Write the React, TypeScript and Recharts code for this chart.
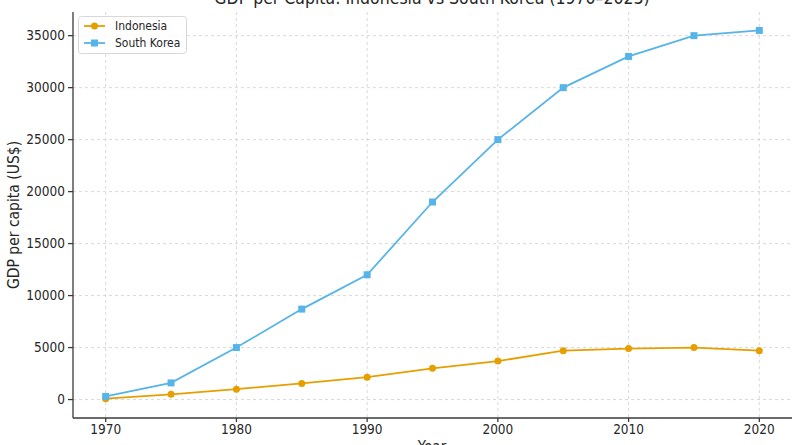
import React from "react";
import { CartesianGrid, Line, LineChart, XAxis, YAxis } from "recharts";

const years = [1970, 1975, 1980, 1985, 1990, 1995, 2000, 2005, 2010, 2015, 2020];
const indonesia = [80, 500, 1000, 1550, 2150, 3000, 3700, 4700, 4900, 5000, 4700];
const southKorea = [300, 1600, 5000, 8700, 12000, 19000, 25000, 30000, 33000, 35000, 35500];
const xTicks = [1970, 1980, 1990, 2000, 2010, 2020];
const yTicks = [0, 5000, 10000, 15000, 20000, 25000, 30000, 35000];

const data = years.map((year, i) => ({
  year,
  indonesia: indonesia[i],
  southKorea: southKorea[i],
}));

const ORANGE = "#E69F00";
const BLUE = "#56B4E9";
const FONT = "'DejaVu Sans Condensed', 'DejaVu Sans', sans-serif";
const TEXT = "#262626";
const AXIS = "#3a3a3a";

const SquareDot = (props: any) => {
  const { cx, cy, index } = props;
  if (cx == null || cy == null) return null;
  return <rect key={`sq-${index}`} x={cx - 3.5} y={cy - 3.5} width={7} height={7} fill={BLUE} />;
};

const LegendBox = () => (
  <g transform="translate(78 16)">
    <rect x={0.5} y={0.5} width={108} height={37} rx={3} fill="#fff" fillOpacity={0.8} stroke="#d8d8d8" />
    <line x1={6} y1={10} x2={27} y2={10} stroke={ORANGE} strokeWidth={1.8} />
    <circle cx={16.5} cy={10} r={3.5} fill={ORANGE} />
    <text x={37} y={14} fontFamily={FONT} fontStretch="condensed" fontSize={12} fill={TEXT}>Indonesia</text>
    <line x1={6} y1={27} x2={27} y2={27} stroke={BLUE} strokeWidth={1.8} />
    <rect x={13} y={23.5} width={7} height={7} fill={BLUE} />
    <text x={37} y={31} fontFamily={FONT} fontStretch="condensed" fontSize={12} fill={TEXT}>South Korea</text>
  </g>
);

const tickStyle = { fill: TEXT, fontSize: 13.5, fontFamily: FONT, fontStretch: "condensed" };

export default function App() {
  return (
    <div style={{ position: "absolute", left: 0, top: 0, width: 800, height: 445, overflow: "hidden", background: "#fff" }}>
      <LineChart width={800} height={445} data={data} margin={{ top: 12, right: 8, left: 0, bottom: 0 }}>
        <CartesianGrid stroke="#cfcfcf" strokeDasharray="3 3" strokeWidth={0.8} horizontalValues={yTicks} verticalValues={xTicks} />
        <XAxis
          dataKey="year"
          type="number"
          domain={[1967.5, 2022.5]}
          ticks={xTicks}
          height={27}
          tickSize={4}
          tickMargin={2}
          stroke={AXIS}
          strokeWidth={1.3}
          tick={tickStyle}
          allowDataOverflow
        />
        <YAxis
          type="number"
          domain={[-1775, 37275]}
          ticks={yTicks}
          width={73}
          tickSize={5}
          tickMargin={3}
          stroke={AXIS}
          strokeWidth={1.3}
          tick={tickStyle}
          allowDataOverflow
        />
        <Line
          dataKey="indonesia"
          name="Indonesia"
          stroke={ORANGE}
          strokeWidth={1.8}
          dot={{ r: 3.5, fill: ORANGE, stroke: "none" }}
          activeDot={false}
          isAnimationActive={false}
        />
        <Line
          dataKey="southKorea"
          name="South Korea"
          stroke={BLUE}
          strokeWidth={1.8}
          dot={<SquareDot />}
          activeDot={false}
          isAnimationActive={false}
        />
      </LineChart>
      <svg width={800} height={445} style={{ position: "absolute", left: 0, top: 0, pointerEvents: "none" }}>
        <LegendBox />
        <text x={432} y={4} textAnchor="middle" fontFamily={FONT} fontStretch="condensed" fontSize={17.5} fill={TEXT}>
          GDP per Capita: Indonesia vs South Korea (1970–2023)
        </text>
        <text x={432} y={452} textAnchor="middle" fontFamily={FONT} fontStretch="condensed" fontSize={15} fill={TEXT}>
          Year
        </text>
        <text
          x={0}
          y={0}
          transform="translate(19 215) rotate(-90)"
          textAnchor="middle"
          fontFamily={FONT}
          fontStretch="condensed"
          fontSize={15.5}
          fill={TEXT}
        >
          GDP per capita (US$)
        </text>
      </svg>
    </div>
  );
}
